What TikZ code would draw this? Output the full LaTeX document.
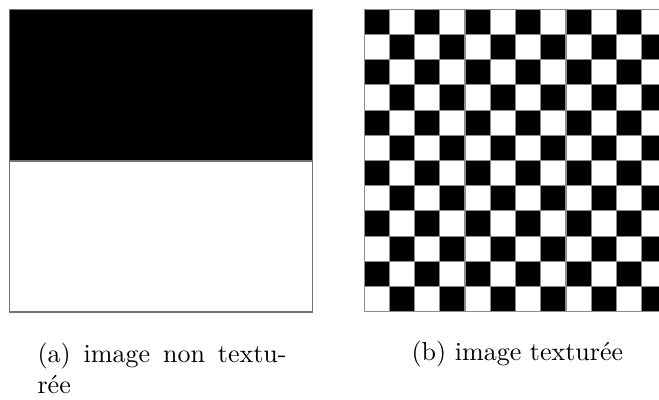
\documentclass[tikz,border=0pt]{standalone}
\usepackage{fontspec}

\begin{document}
\begin{tikzpicture}[
    x=0.3846pt, y=-0.3846pt,
    frame/.style={draw=black!55, line width=0.45pt},
    gridline/.style={draw=black!45, line width=0.4pt},
    caption/.style={font=\normalsize, inner sep=0pt, anchor=base west}
]
\useasboundingbox (0,0) rectangle (659,400);

% (a) plain picture: black top half, white bottom half
\fill[white] (9.3,9.3) rectangle (312.3,312);
\fill[black] (9.3,9.3) rectangle (312.3,161);
\draw[frame] (9.3,9.3) rectangle (312.3,312);
\draw[frame] (9.3,161) -- (312.3,161);

% (b) checkerboard, 12 x 12 cells, cut at the right edge
\begin{scope}
\clip (364,8) rectangle (659,313);
\fill[white] (364,9.3) rectangle (667,311.7);
\foreach \j in {0,...,11} {
  \pgfmathtruncatemacro{\off}{mod(\j,2)}
  \foreach \i in {0,...,5}
    \fill[black] ({364+25.25*(2*\i+\off)},{9.3+25.2*\j}) rectangle +(25.25,25.2);
}
\foreach \k in {0,...,12} {
  \draw[gridline] ({364+25.25*\k},9.3) -- ({364+25.25*\k},311.7);
  \draw[gridline] (364,{9.3+25.2*\k}) -- (667,{9.3+25.2*\k});
}
\end{scope}

% captions
\node[caption, text width=95.8pt, align=justify] (capA) at (37,362.5)
  {(a) image non textu-\linebreak rée};
\node[caption] (capB) at (411,360.5) {(b) image texturée};

\end{tikzpicture}
\end{document}
